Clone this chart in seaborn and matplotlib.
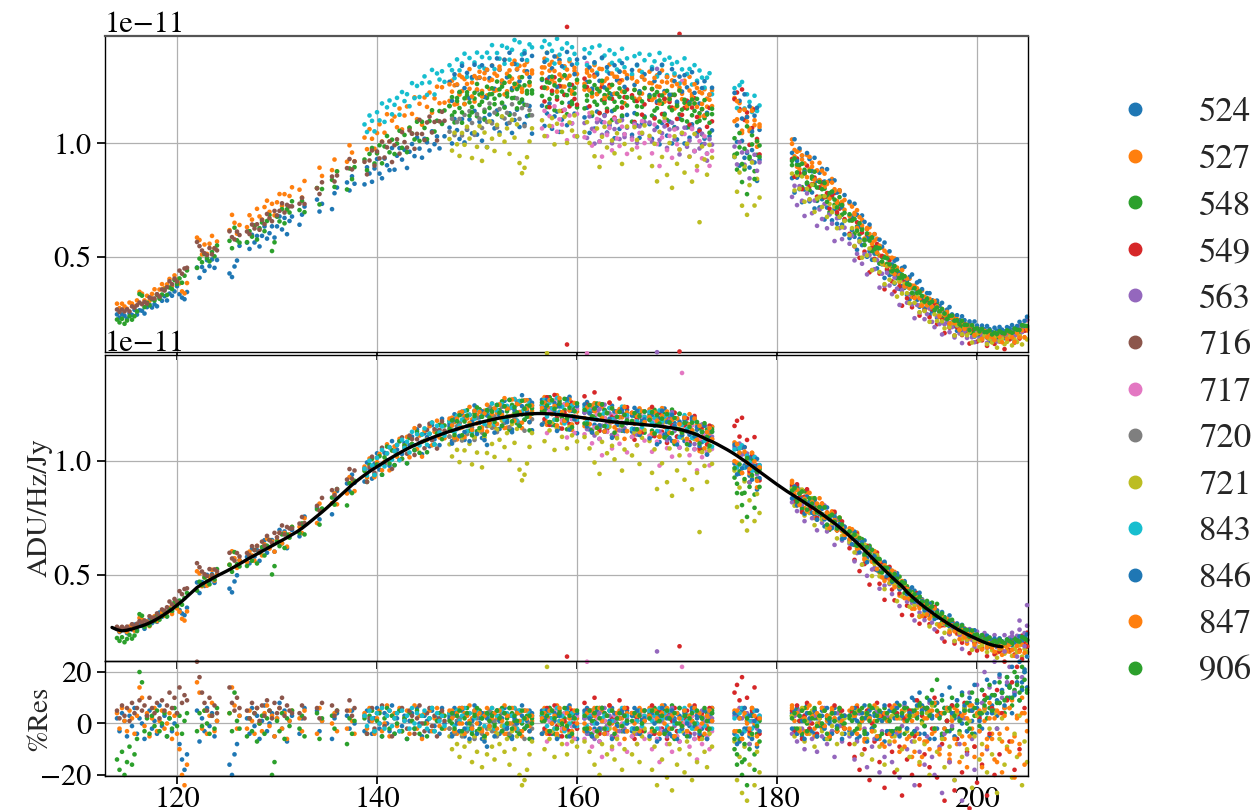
import numpy as np
import pandas as pd
import matplotlib
matplotlib.use("Agg")
import matplotlib.pyplot as plt
import seaborn as sns
from matplotlib.lines import Line2D

# antennas, display colours and relative gains (raw / normalised)
antennas = ["524", "527", "548", "549", "563", "716", "717",
            "720", "721", "843", "846", "847", "906"]
tab = sns.color_palette("tab10", 10)
colors = [tab[i % 10] for i in range(len(antennas))]
gains = [0.90, 1.05, 0.97, 0.98, 0.88, 0.95, 0.90,
         0.93, 0.93, 1.12, 1.08, 1.04, 1.00]

# unflagged sub-bands [MHz]; channels every chan_step inside each
chan_step = 0.25
segments = [(114.0, 121.0), (122.0, 124.0), (125.25, 126.25),
            (127.0, 131.5), (132.25, 132.75), (134.0, 134.5),
            (135.5, 136.0), (137.0, 137.75), (138.75, 146.75),
            (147.25, 155.5), (156.5, 160.0), (160.75, 165.0),
            (165.5, 166.75), (167.25, 173.5), (175.75, 178.25),
            (181.5, 186.75), (187.25, 205.0)]

# smooth bandpass fit [1e-11 ADU/Hz/Jy] on a 0.5 MHz grid from fit_start
fit_start = 113.5
fit_step = 0.5
fit_end = 202.5
fit_curve = [
    0.270, 0.260, 0.255, 0.258, 0.263, 0.270, 0.277, 0.285, 0.295, 0.307,
    0.320, 0.335, 0.350, 0.368, 0.385, 0.405, 0.425, 0.445, 0.460, 0.472,
    0.484, 0.496, 0.507, 0.518, 0.530, 0.542, 0.555, 0.568, 0.580, 0.592,
    0.604, 0.616, 0.628, 0.640, 0.652, 0.664, 0.677, 0.690, 0.705, 0.722,
    0.740, 0.758, 0.776, 0.795, 0.815, 0.835, 0.855, 0.875, 0.895, 0.913,
    0.930, 0.946, 0.961, 0.975, 0.989, 1.003, 1.016, 1.029, 1.041, 1.053,
    1.064, 1.074, 1.084, 1.093, 1.102, 1.110, 1.118, 1.126, 1.133, 1.140,
    1.147, 1.153, 1.159, 1.165, 1.171, 1.176, 1.181, 1.186, 1.190, 1.194,
    1.198, 1.201, 1.204, 1.206, 1.207, 1.208, 1.208, 1.207, 1.206, 1.204,
    1.202, 1.199, 1.196, 1.193, 1.190, 1.187, 1.184, 1.181, 1.178, 1.175,
    1.172, 1.170, 1.168, 1.166, 1.164, 1.162, 1.160, 1.158, 1.156, 1.154,
    1.151, 1.148, 1.145, 1.141, 1.136, 1.130, 1.123, 1.115, 1.105, 1.094,
    1.085, 1.074, 1.062, 1.050, 1.037, 1.023, 1.008, 0.993, 0.977, 0.961,
    0.945, 0.929, 0.913, 0.897, 0.882, 0.867, 0.853, 0.839, 0.825, 0.811,
    0.797, 0.782, 0.767, 0.751, 0.735, 0.718, 0.700, 0.681, 0.661, 0.641,
    0.620, 0.598, 0.576, 0.554, 0.532, 0.511, 0.490, 0.470, 0.451, 0.425,
    0.405, 0.386, 0.368, 0.351, 0.335, 0.319, 0.304, 0.290, 0.276, 0.263,
    0.251, 0.240, 0.229, 0.219, 0.209, 0.200, 0.193, 0.188, 0.185,
    0.184, 0.184, 0.185, 0.187, 0.190,
]

# raw (un-normalised) level relative to the fit, same grid
raw_ratio = [
    1.04, 1.04, 1.04, 1.04, 1.05, 1.06, 1.06, 1.06, 1.07, 1.07,
    1.08, 1.08, 1.08, 1.08, 1.08, 1.08, 1.08, 1.08, 1.08, 1.08,
    1.08, 1.08, 1.08, 1.08, 1.08, 1.08, 1.08, 1.08, 1.08, 1.08,
    1.08, 1.08, 1.08, 1.08, 1.08, 1.08, 1.08, 1.07, 1.06, 1.06,
    1.05, 1.05, 1.04, 1.04, 1.03, 1.03, 1.02, 1.02, 1.01, 1.01,
    1.00, 1.00, 1.00, 1.00, 1.00, 1.00, 1.00, 1.00, 1.00, 1.00,
    1.00, 1.00, 1.01, 1.01, 1.01, 1.01, 1.02, 1.02, 1.02, 1.02,
    1.02, 1.02, 1.02, 1.02, 1.02, 1.02, 1.02, 1.02, 1.02, 1.02,
    1.02, 1.02, 1.02, 1.02, 1.02, 1.02, 1.02, 1.02, 1.02, 1.02,
    1.02, 1.02, 1.02, 1.02, 1.02, 1.02, 1.02, 1.02, 1.02, 1.02,
    1.02, 1.02, 1.02, 1.02, 1.02, 1.02, 1.02, 1.02, 1.02, 1.02,
    1.02, 1.02, 1.02, 1.02, 1.02, 1.02, 1.02, 1.02, 1.02, 1.02,
    1.02, 1.03, 1.04, 1.05, 1.05, 1.06, 1.06, 1.06, 1.06, 1.06,
    1.06, 1.06, 1.06, 1.06, 1.06, 1.06, 1.06, 1.06, 1.05, 1.05,
    1.05, 1.04, 1.04, 1.03, 1.03, 1.02, 1.01, 1.00, 0.99, 0.98,
    0.98, 0.97, 0.96, 0.95, 0.94, 0.93, 0.92, 0.91, 0.90, 0.89,
    0.88, 0.87, 0.86, 0.85, 0.84, 0.83, 0.82, 0.81, 0.80, 0.79,
    0.79, 0.78, 0.78, 0.78, 0.78, 0.78, 0.79, 0.80, 0.81,
    0.82, 0.83, 0.85, 0.88, 0.92,
]

# per-antenna residuals from the fit [%], one list per sub-band,
# starting at sub-band index first_seg
first_seg = [0, 0, 0, 10, 11, 0, 10, 9, 9, 8, 9, 9, 9]

res_524 = [
    [2, -3, 4, 1, -5, 3, -1, 6, -4, 2, 0, -6, 3, 5, -2, 1, -4, 7, -1, 3,
     -5, 2, -3, 0, 4, -8, -14, -18, -12],
    [5, -7, 2, -3, 6, -1, 4, -5, 1],
    [-16, -20, -12, -8, 3],
    [2, -4, 6, -1, 3, -6, 1, 7, -3, 0, 4, -5, 2, 8, -2, 5, -7, 1, 3],
    [-4, 2, 6], [5, -3, 1], [-6, 2, 4], [3, -2, 5, 0],
    [-3, 5, 1, -4, 2, 6, -2, -5, 4, 0, -3, 7, -4, 2, 5, -1, 3, -6, 1, 4,
     -2, 6, 0, -5, 3, 1, -3, 5, -1, 2, -4, 6, 0],
    [3, -4, 6, 1, -3, 5, -5, 0, 4, -2, 7, -3, 2, -6, 3, -9, 4, 1, -2, 5,
     -4, 2, 6, -1, 3, -5, 0, 4, -3, 7, -2, 1, 5, -6],
    [5, -3, 2, 6, -4, 1, 3, -5, 0, 4, -2, 7, -1, 3, -6],
    [2, 6, -4, 3, -2, 5, -7, 1, 4, -3, 0, 6, -5, 2, -1, 4, -3, 5],
    [-3, 6, 1, -4, 2, 5],
    [2, -4, 5, 1, -6, 3, 7, -2, 4, -5, 2, -3, 6, 0, -4, 3, -1, 5, -6, 2,
     4, -2, 1, -5, 3, 6],
    [-4, 3, -7, 5, -2, 1, -5, 4, -1, -9, 2],
    [4, -3, 6, 1, -5, 3, 7, -2, 4, -4, 2, -1, 5, -6, 3, 0, -3, 6, -2, 4,
     1, -4],
    [-3, 5, 2, -6, 4, 1, 7, -4, 3, -2, 6, -5, 2, 4, -7, 3, 1, 5, -3, 8,
     -4, 2, 6, -2, -5, 4, 9, 3, -4, 7, -1, 5, -6, 3, 8, -2, 4, -5, 6, 1,
     -3, 7, 2, -6, 4, 0, 5, -3, 8, 1, -4, 6, 3, -2, 9, 4, -5, 7, 11, 3,
     8, 13, 6, 15, 10, 4, 12, 18, 9, 16, 21, 14],
]

res_527 = [
    [4, -2, 6, 1, -3, 5, 2, -4, 3, 14, 10, -1, 4, -5, 2, 6, -3, 1, 5, -2,
     0, 4, -6, 3, -4, -10, -20, -24, -16],
    [16, 12, -2, 5, -4, 3, 8, -3, 1],
    [4, 14, 7, -2, 3],
    [-2, 5, 1, -4, 6, 0, -3, 4, 7, -1, 3, -5, 2, 6, -2, 4, -6, 1, 5],
    [2, -3, 5], [-4, 6, 1], [0, 4, -3], [-2, 5, 1, -4],
    [4, -2, 6, 1, -4, 2, 5, -3, 0, 7, -5, 3, 4, -1, 6, -3, 2, 5, -4, 1,
     7, -2, 3, -6, 4, 0, 5, -3, 2, 6, -1, 4, -2],
    [-2, 5, 3, -4, 6, 0, 4, -3, 7, 2, -5, 3, 5, -2, 4, -4, 1, 6, -3, 2,
     5, -1, 7, -4, 3, 0, 6, -2, 4, -5, 2, 5, -3, 1],
    [3, 6, -4, 2, 5, -2, 7, 1, -3, 4, 0, 6, -5, 3, 2],
    [-3, 4, 2, -5, 6, 3, -2, 5, 1, -4, 7, 0, 3, -3, 5, 2, -6, 4],
    [4, -4, 2, 6, -2, 3],
    [6, 2, -3, 5, 1, 7, -4, 3, -2, 4, 6, -5, 2, 0, 5, -3, 7, 1, -2, 4,
     -6, 3, 5, -1, 2, 6],
    [5, -3, 4, -6, 3, 1, -4, 6, 0, -8, 2],
    [7, 3, -4, 5, 2, -3, 6, 0, 4, -5, 3, 8, -2, 5, 1, -4, 6, 2, -3, 4,
     -1, 3],
    [5, -4, 3, 7, -2, 4, -7, 2, 6, -3, 1, 5, -6, 3, -9, 4, 2, -5, 7, -3,
     -11, 4, 1, -6, 5, -13, 3, -4, -16, 6, -7, 2, -10, 5, -3, 8, -12, 4,
     -6, 1, -14, 3, 6, -8, 2, -5, 4, -17, 7, -2, -9, 3, 5, -12, 1, -6, 8,
     -4, 2, -15, 4, -7, 6, -2, -11, 9, -5, 3, -8, 10, 4, -3],
]

res_548 = [
    [-14, -18, -11, -20, -15, -9, -16, -12, -6, 20, 16, -3, 2, -4, 3, -1,
     5, -3, 0, 4, -5, 2, -2, 6, -1, 3, -4, 1, 4],
    [-3, 4, -1, 5, 0, -4, 3, -2, 6],
    [4, -3, 12, 1, -2],
    [-5, 2, -3, 4, -7, 0, 3, -4, 2, 5, -20, -15, 1, -3, 4, -6, 2, -1, 5],
    [-2, 3, -5], [4, -6, 2], [3, -2, 5], [-8, 2, -4, 1],
    [2, -4, 3, 5, -3, 1, 4, -5, 2, 6, -2, 3, -4, 0, 5, -3, 2, -6, 4, 1,
     -2, 5, -4, 3, 0, -5, 2, 6, -3, 1, 4, -2, 3],
    [4, 0, -3, 5, 2, -4, 3, 6, -2, 1, 4, -3, 5, 2, -5, 3, -1, 4, 0, -4,
     3, 6, -2, 2, -5, 4, 1, -3, 5, 0, -2, 3, -6, 2],
    [1, 4, -3, 6, 2, -4, 3, 5, -1, 2, -5, 4, 0, 3, -2],
    [-2, 3, 5, -4, 1, 6, -3, 2, 4, -1, 5, -5, 2, 0, 4, -3, 6, 1],
    [-5, 3, -2, 4, 1, -3],
    [4, -2, 6, 1, -4, 3, 5, -3, 2, 7, -6, 4, 0, -2, 5, 3, -4, 1, 6, -1,
     3, -5, 2, 4, -3, 5],
    [-10, -16, -6, -20, -14, -24, -8, 3, -12, -4, 1],
    [3, -2, 5, 1, -4, 6, 0, -3, 4, 2, -5, 3, -1, 5, 2, -6, 4, 1, -3, 5,
     0, -2],
    [2, 5, -3, 4, 0, 6, -4, 3, 7, -2, 4, 1, -5, 3, 6, 2, -3, 5, 4, -2,
     7, 3, -4, 6, 2, 5, -3, 4, 8, 1, 6, 10, 4, 13, 7, 17, 3, -4, 6, 1, 5,
     -2, 4, 7, -3, 2, 6, 0, 5, -4, 3, 8, -1, 4, 9, 2, 6, 11, 5, -2, 8,
     12, 4, 10, 15, 7, 13, 18, 9, 14, 20, 12],
]

res_549 = [
    [3, -2, 6, -4, 2, 7, -1, 4, -5, 1, 26, -3, 5, 0, -2],
    [8, 5, -2, 4, 10, 3, -4, 6, 1, -3, 7, 2, -5, 4, 9, -1, 3, 6],
    [4, -6, 2, 5, -3, 1],
    [3, 7, -4, 2, 5, -2, 4, -6, 3, 1, 6, -3, 30, -1, 2, 5, -4, 3, 7, 0,
     -5, 4, 2, -2, 6, 1],
    [12, 15, 9, 18, 6, 10, -3, 5, 14, 2, -4],
    [5, -3, 7, 1, -6, 3, 8, -2, 0, 5, -4, 2, 6, -1, 3, -5, 4, 7, -3, 1,
     5, -2],
    [-8, 4, -13, 6, -18, 2, -10, 5, -22, 0, -7, 8, -15, 3, -25, -4, 7,
     -11, -19, 4, -9, -28, 2, -14, 5, -20, -5, 9, -24, 3, -12, 6, -17, -2,
     10, -21, 4, -8, -30, 1, -15, 7, -26, -6, 3, -19, 8, -11, -33, 5, -9,
     -23, 2, -16, 11, -28, -4, 6, -20, 13, -12, 4, -35, 9, -7, 16, -18,
     22, -10, 25, 6, 30],
]

res_563 = [
    [2, -4, 5, 0, -6, 3, 4, -2, 6, -1, 3, -5, 1, 4, -3, 5, -2, 2],
    [-2, 4, -4, 3, 0, 5],
    [5, -3, 2, 28, -2, 1, 4, -5, 3, 6, -1, 4, -7, 2, 5, -3, 0, 6, -4, 3,
     -2, 5, 1, -6, 4, 2],
    [3, -5, 6, 2, -3, 4, -8, 1, 5, -2, 3],
    [-4, 3, -7, 5, -2, -10, 4, 1, -6, 3, -11, 0, -5, 6, -8, 2, -3, -13, 4,
     -1, -7, 3],
    [-5, 3, -14, -7, 4, -12, -2, -17, 2, -9, -6, 5, -19, -3, -13, 3, -8,
     -15, 6, -4, -21, -1, 7, -10, 4, -7, -24, -2, -11, 5, -16, -5, 8, -13,
     -20, 3, -9, -27, -4, 6, -15, -1, -22, 9, -8, -30, 2, -12, 12, -6, -18,
     15, -3, 8, 20, -10, 14, 5, 24, -2, 18, 10, 28, 16, 22, 34, 12, 26,
     40, 18, 30, 46],
]

res_716 = [
    [5, 2, 7, 3, 6, 1, 8, 4, 6, 9, 5, 7, 3, 10, 6, 4, 8, 2, 9, 5, 7, 12,
     6, 10, 4, 14, 8, 11, 9],
    [24, 18, 12, 8, 5, 10, 3, 7, 4],
    [14, 8, 5, 10, 6],
    [5, 2, 8, 4, 6, 1, 7, 3, 9, 5, 2, 8, 4, 6, 10, 3, 7, 5, 4],
    [4, 7, 2], [6, 2, 8], [7, 3, 5], [5, 9, 3, 6],
    [3, -4, 2, 6, -2, 4, 0, 7, -1, 3, 5, -5, 2, 4, -3, 6, 1, -2, 5, 3,
     -4, 2, 7, 0, -3, 4, 6, -1, 3, -5, 2, 5, 1],
]

res_717 = [
    [-4, 3, -7, 1, -3, 5, -5, 0, -2, 4, -8, 2, -1, -6, 3],
    [-6, 24, 4, -9, -3, 2, -7, -13, 1, -4, -1, -10, 3, -5, -8, 0, -3, -11],
    [-5, 1, -8, -2, 3, -6],
    [-4, -10, 2, -6, -15, -3, 4, -8, -2, -11, 1, -5, -7, 22, 0, -4, -9,
     3, -6, -14, -1, -8, 2, -5, -10, -3],
]

res_720 = [
    [-2, 3, -4, 1, 2, -5, 3, -3, 4, -1, -6, 2, 0, -4, 3, -2, 5, -3, 1, -5,
     2, 4, -2, 0, -4, 3, -1, 5, -3, 1, -6, 2, 0, -2],
]

res_721 = [
    [-5, -10, -3, -8, -13, -4, -9, -2, -7, -15, -5, -11, -3, -17, -6, -12,
     -2, -9, -14, -4, -8, -1, -11, -6, -16, -3, -10, -5, -20, -24, -22,
     -18, -12, -7],
    [-4, -10, 22, -6, -3, -13, -5, 0, -8, -2, -12, -4, -7, -1, -9],
    [-7, -3, -11, 1, -16, -5, -20, -8, -4, -12, -2, -9, -14, -6, -1, -18,
     -10, -3],
    [-12, -3, -8, -15, -5, -2],
    [-6, -18, -9, -24, -4, -14, 2, -21, -8, -26, -5, -16, -10, -3, -19, -7,
     -12, -22, -2, -15, -38, -6, -11, -17, -4, -9],
    [-7, -22, -13, -27, -9, -30, -16, -5, -24, -11, -19],
    [3, -5, 4, -2, 6, -7, 1, -4, 5, -9, 0, 2, -3, 5, -6, 3, -1, 4, -8, 1,
     -4, 2],
    [-4, 3, -8, 5, -1, -12, 4, -6, 2, -14, -3, 6, -9, 1, -16, 4, -7, 3,
     -5, -18, 2, -10, 5, -3, -13, 3, -7, 6, -15, 0, -8, 4, -20, 7, -2, -11,
     3, -6, -17, 5, -9, 2, -22, 4, -4, -13, 6, -10, 1, -25, -5, 3, -14, -8,
     5, -19, -2, -12, 4, -27, -6, 2, -16, -9, 6, -21, -4, -13, 3, -24, -7,
     -15],
]

res_843 = [
    [3, -1, 5, 2, -3, 4, 0, 6, -2, 3, 5, -1, 2, 4, -3, 5, 1, 3, -2, 6, 0,
     4, -1, 3, 5, -2, 2, 6, -3, 4, 1, 3, -1],
    [4, 2, -1, 5, 1, 3, 6, -2, 4, -3, 2, 5, 0, 3, -1, 4, 2, 6, -2, 3, 1,
     5, -1, 4, 0, 3, 6, -2, 5, 1, 2, -1, 4, 3],
    [3, 5, -1, 4, 2, -2, 6, 1, 3, -3, 5, 0, 4, 2, -1],
    [4, -1, 3, 5, 0, -3, 6, 2, 3, -2, 5, 1, 4, -1, 2, 6, 0, 3],
    [-2, 4, 1, 5, -1, 3],
    [5, 1, 3, -2, 6, 2, 4, -1, 5, 3, 0, 4, -3, 2, 6, 1, 3, -2, 5, 0, 4,
     2, -1, 3, 5, -2],
    [2, -5, 4, 6, -3, 3, 1, -2, 5, 0, 3],
]

res_846 = [
    [2, -5, 4, 0, -3, 6, -2, 3, -6, 1, 5, -4, 0, 4, -7, 2, -1, 3, -5, 5,
     1, -3, 4, -2, 6, -6, 2, 0, -4, 3, 5, -1, -3, 4],
    [-4, 2, 5, -3, 0, 4, -6, 3, 1, -2, 6, -5, 2, -1, 4],
    [5, -3, 2, -5, 4, 0, -2, 6, -4, 3, 1, -6, 4, -1, 2, 5, -3, 0],
    [3, -2, 5, -4, 1, 2],
    [-5, 4, 0, -7, 3, 6, -3, 2, -4, 5, 1, -6, 3, -2, 4, 0, -5, 6, -1, 3,
     -4, 2, 5, -6, 1, 4],
    [4, -8, 2, -4, 6, -2, 3, -6, 1, 5, -3],
    [-2, 5, -4, 3, 1, -6, 4, 2, -3, 5, -5, 0, 3, -2, 6, 1, -4, 4, -1, 2,
     -6, 3],
    [3, -4, 6, 1, -5, 4, 2, -7, 5, -2, 3, -6, 4, 1, 7, -3, 5, -4, 2, 6,
     -5, 3, 8, -2, 4, 10, -3, 7, 12, 5, -4, 6, 9, 2, -6, 8, 3, 11, -2, 6,
     14, 4, -5, 9, 2, 12, 7, -3, 10, 5, 15, 8, 1, 13, 6, 17, 10, 4, 16, 9,
     19, 12, 7, 18, 14, 22, 11, 16, 24, 13, 20, 26],
]

res_847 = [
    [5, 2, -3, 4, 0, 6, -4, 3, 1, -2, 5, 0, 4, -3, 3, 6, -1, 2, 4, -2, 5,
     1, -4, 3, 0, 6, -2, 4, 1, -3, 5, 2, -1, 3],
    [2, 4, -3, 5, 0, 3, -4, 6, 1, -2, 4, 2, -3, 5, 0],
    [0, 4, -2, 5, 3, -3, 6, 1, -4, 3, 0, 5, -2, 4, 2, -1, 6, -3],
    [4, 0, 3, -3, 5, 1],
    [3, -3, 5, 2, -4, 4, 0, 6, -2, 3, -5, 4, 2, -1, 5, -3, 3, 1, 6, -2,
     4, 0, -4, 3, 5, 1],
    [-3, 5, 2, -6, 4, 0, -2, 6, 3, -5, 2],
    [6, 1, 4, -3, 5, 2, -4, 7, 3, -2, 4, 0, 6, -1, 3, -5, 5, 2, -3, 6, 1,
     -2],
    [-2, 6, 3, -4, 5, 1, -6, 4, 2, -3, 7, -5, 3, -8, 4, 1, -4, 6, -7, 2,
     -3, 5, -9, 3, -5, 1, -11, 4, -6, -13, 2, -7, 5, -4, 8, 3, -10, 4, -2,
     6, -12, 1, -6, 5, -15, 3, -8, 2, -5, 7, -13, 4, -3, -17, 6, -9, 2, -6,
     -14, 5, -4, -19, 3, -10, 6, -7, -21, 2, -12, 4, -16, 1],
]

res_906 = [
    [1, 4, -2, 3, 5, -3, 2, 4, 0, -4, 3, 6, -2, 2, -5, 4, 1, 3, -1, 5, 2,
     -3, 4, 0, 6, -2, 3, 1, -4, 5, 2, -1, 3, 0],
    [4, 1, 3, -3, 5, 2, -2, 4, 0, 6, -1, 3, -4, 2, 5],
    [3, -2, 5, 1, 4, -3, 2, 6, -2, 3, 0, 5, -4, 2, 4, -1, 3, 1],
    [1, 4, -2, 3, 0, 5],
    [2, 5, -3, 4, 1, 3, -4, 5, 2, -2, 4, 0, 6, -1, 3, -5, 2, 4, 0, 5, -3,
     2, 6, 1, -2, 4],
    [-6, -12, -3, -15, -8, 2, -10, -4, -18, -1, -7],
    [2, 4, -2, 3, 5, 1, -3, 4, 2, 6, -1, 3, 0, 5, -4, 2, 4, 1, -2, 6, 3,
     0],
    [3, 1, 4, -2, 5, 2, -3, 4, 1, 6, -1, 3, 5, -4, 2, 4, 1, -3, 5, 3, -2,
     4, 6, 1, 3, -4, 5, 2, 7, 4, -1, 6, 3, 8, -2, 5, 2, 9, 4, -3, 6, 10, 3,
     7, 1, 11, 5, 8, -2, 12, 6, 9, 4, 13, 7, 10, 15, 5, 11, 8, 16, 12, 9,
     18, 14, 10, 20, 15, 12, 22, 17, 13],
]

residuals = [res_524, res_527, res_548, res_549, res_563, res_716, res_717,
             res_720, res_721, res_843, res_846, res_847, res_906]

# ---------------------------------------------------------------- table
scale = 1e-11
fit_freq = fit_start + fit_step * np.arange(len(fit_curve))
rows = []
for ant, gain, s0, res in zip(antennas, gains, first_seg, residuals):
    for k, vals in enumerate(res):
        lo, hi = segments[s0 + k]
        freqs = np.arange(lo, hi + 1e-6, chan_step)
        for f, r in zip(freqs, vals):
            model = np.interp(f, fit_freq, fit_curve)
            ratio = np.interp(f, fit_freq, raw_ratio)
            norm = model * (1.0 + r / 100.0) * scale
            rows.append((ant, f, norm * gain * ratio, norm, r))
df = pd.DataFrame(rows, columns=["antenna", "freq", "raw", "norm", "res"])

fit_df = pd.DataFrame({"freq": fit_freq, "fit": np.array(fit_curve) * scale})
fit_df = fit_df[fit_df["freq"] <= fit_end]

# ---------------------------------------------------------------- style
sns.set_theme(style="ticks")
plt.rcParams.update({
    "font.family": ["STIXGeneral", "DejaVu Serif"],
    "mathtext.fontset": "stix",
    "axes.edgecolor": "black",
    "axes.linewidth": 1.0,
    "xtick.color": "black",
    "ytick.color": "black",
    "xtick.direction": "out",
    "ytick.direction": "out",
    "xtick.labelsize": 22,
    "ytick.labelsize": 22,
    "axes.labelsize": 21,
    "grid.color": "#b0b0b0",
    "grid.linewidth": 0.9,
})

palette = dict(zip(antennas, colors))

fig = plt.figure(figsize=(12.56, 8.10), dpi=100)
left, width = 0.0836, 0.7349
ax_raw = fig.add_axes([left, 0.5654, width, 0.3901])
ax_norm = fig.add_axes([left, 0.1840, width, 0.3778], sharex=ax_raw)
ax_res = fig.add_axes([left, 0.0420, width, 0.1420], sharex=ax_raw)

point_kw = dict(hue="antenna", hue_order=antennas, palette=palette,
                s=11, linewidth=0, legend=False, clip_on=False)

sns.scatterplot(data=df, x="freq", y="raw", ax=ax_raw, **point_kw)
sns.scatterplot(data=df, x="freq", y="norm", ax=ax_norm, **point_kw)
sns.lineplot(data=fit_df, x="freq", y="fit", ax=ax_norm, color="black",
             linewidth=2.4, zorder=5)
sns.scatterplot(data=df, x="freq", y="res", ax=ax_res, **point_kw)

for ax in (ax_raw, ax_norm, ax_res):
    ax.set_facecolor("none")
    ax.grid(True)
    ax.set_axisbelow(True)
    ax.set_xlabel("")
    ax.set_ylabel("")
    for sp in ax.spines.values():
        sp.set_visible(True)
        sp.set_color("black")
ax_raw.spines["top"].set_color("#555555")
ax_raw.spines["top"].set_linewidth(1.6)

ax_raw.set_xlim(112.8, 205.1)
ax_raw.set_xticks([120, 140, 160, 180, 200])
ax_raw.tick_params(labelbottom=False)
ax_norm.tick_params(labelbottom=False)
ax_res.tick_params(axis="x", pad=1.5)

for ax, lo, hi in ((ax_raw, 0.083, 1.47), (ax_norm, 0.123, 1.465)):
    ax.set_ylim(lo * scale, hi * scale)
    ax.set_yticks([0.5 * scale, 1.0 * scale])

ax_res.set_ylim(-20.4, 24.3)
ax_res.set_yticks([-20, 0, 20])

ax_norm.set_ylabel("ADU/Hz/Jy", fontsize=21)
ax_res.set_ylabel("%Res", fontsize=21)
ax_norm.yaxis.set_label_coords(-0.057, 0.5)
ax_res.yaxis.set_label_coords(-0.057, 0.5)

handles = [Line2D([], [], linestyle="", marker="o", markersize=9,
                  color=palette[a]) for a in antennas]
fig.legend(handles, antennas, loc="center left",
           bbox_to_anchor=(0.865, 0.5154), frameon=False, fontsize=25,
           labelspacing=0.41, handletextpad=1.34, handlelength=1.0)

fig.savefig("out.png", dpi=100)
